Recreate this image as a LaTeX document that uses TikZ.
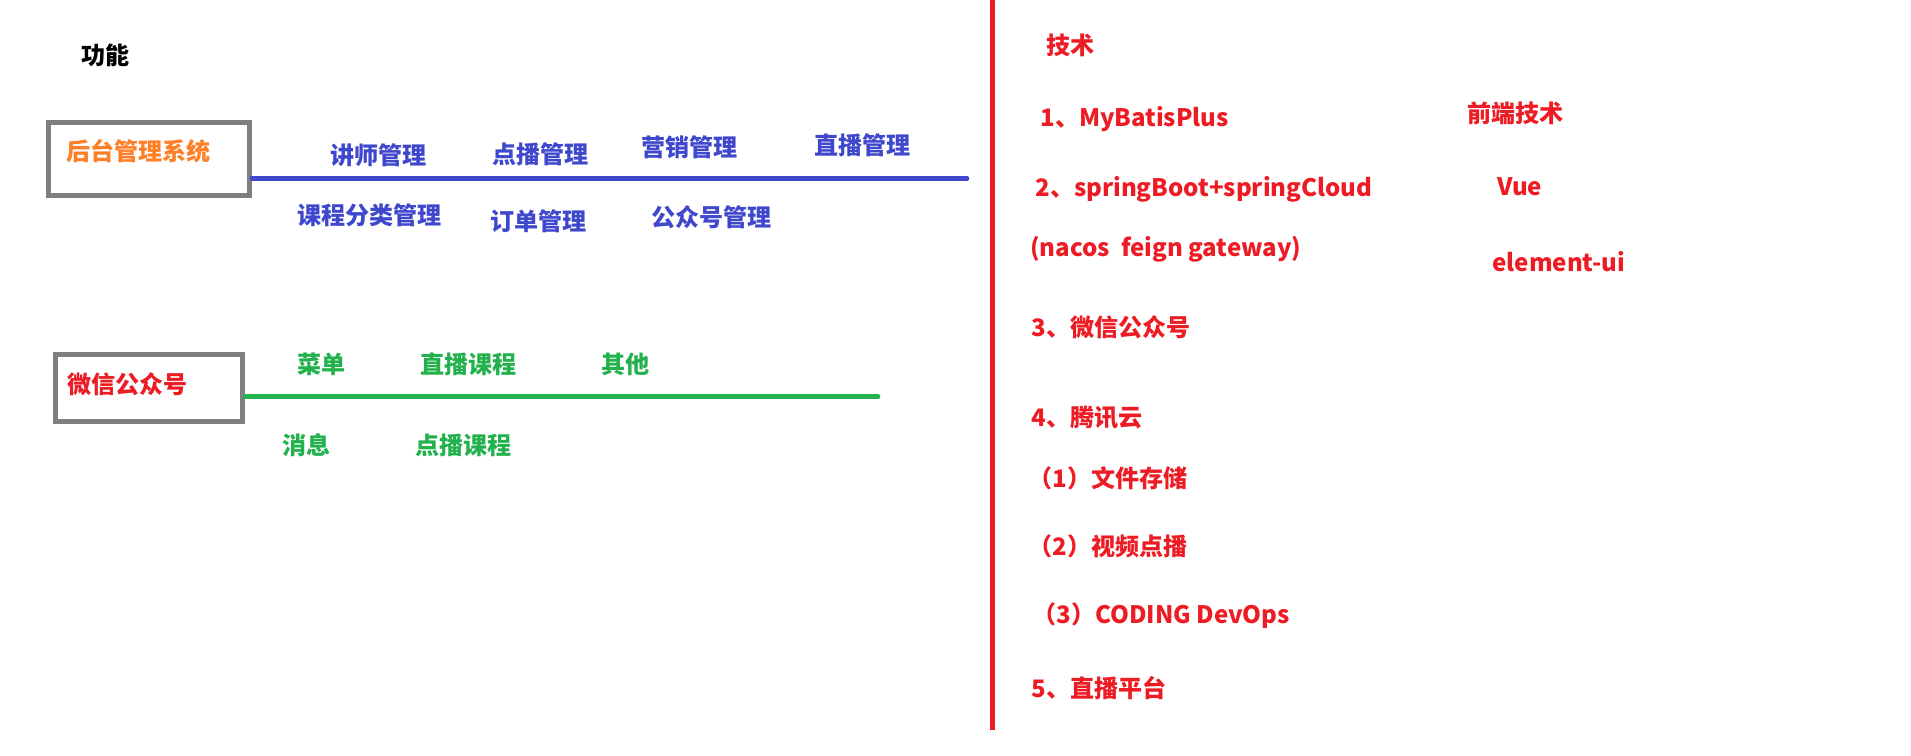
\documentclass[tikz,border=0pt]{standalone}
\usepackage{fontspec}
\setmainfont{Noto Sans CJK SC}
\definecolor{PtOrange}{HTML}{FF7F27}
\definecolor{PtBlue}{HTML}{3F48CC}
\definecolor{PtGreen}{HTML}{22B14C}
\definecolor{PtRed}{HTML}{ED1C24}
\definecolor{PtGray}{HTML}{7F7F7F}
\usepackage{tikz}

\begin{document}
\begin{tikzpicture}[x=0.02cm, y=-0.02cm,
      t/.style={font=\bfseries\fontsize{13.7}{16}\selectfont, inner sep=0pt, anchor=west,
        text height=1em, text depth=0em, xshift=-0.04cm},
      box/.style={rectangle, draw=PtGray, line width=2.8pt},
      bar/.style={line width=2.6pt, line cap=round}]
      \useasboundingbox (0,0) rectangle (1911,756);
      \node[t] (fn) at (83,56) {功能};
      % 后台
      \node[box, minimum width=4.02cm, minimum height=1.46cm] (sys) at (149,159) {};
      \node[t, PtOrange] (syst) at (68,152) {后台管理系统};
      \coordinate (bend) at (967,178.5);
      \draw[bar, PtBlue] (sys.east |- bend) -- (bend);
      \node[t, PtBlue] (m1) at (332,156) {讲师管理};
      \node[t, PtBlue] (m2) at (494,155) {点播管理};
      \node[t, PtBlue] (m3) at (643,148) {营销管理};
      \node[t, PtBlue] (m4) at (816,146) {直播管理};
      \node[t, PtBlue] (m5) at (299,216) {课程分类管理};
      \node[t, PtBlue] (m6) at (492,222) {订单管理};
      \node[t, PtBlue] (m7) at (653,218) {公众号管理};
      % 公众号
      \node[box, minimum width=3.74cm, minimum height=1.34cm] (wx) at (149,388) {};
      \node[t, PtRed] (wxt) at (69,385) {微信公众号};
      \coordinate (gend) at (878,396.5);
      \draw[bar, PtGreen] (wx.east |- gend) -- (gend);
      \node[t, PtGreen] (w1) at (299,365) {菜单};
      \node[t, PtGreen] (w2) at (422,365) {直播课程};
      \node[t, PtGreen] (w3) at (603,365) {其他};
      \node[t, PtGreen] (w4) at (284,446) {消息};
      \node[t, PtGreen] (w5) at (417,446) {点播课程};
      % divider
      \coordinate (vtop) at (992.5,0);
      \coordinate (vbot) at (992.5,730);
      \draw[PtRed, line width=2.6pt] (vtop) -- (vbot);
      % 技术
      \node[t, PtRed] (tc) at (1048,46) {技术};
      \node[t, PtRed] (k1) at (1042,118) {1、MyBatisPlus};
      \node[t, PtRed] (k2) at (1037,188) {2、springBoot+springCloud};
      \node[t, PtRed] (k2b) at (1032,248) {(nacos\ \ feign gateway)};
      \node[t, PtRed] (k3) at (1033,328) {3、微信公众号};
      \node[t, PtRed] (k4) at (1033,418) {4、腾讯云};
      \node[t, PtRed] (k41) at (1030,479) {（1）文件存储};
      \node[t, PtRed] (k42) at (1030,547) {（2）视频点播};
      \node[t, PtRed] (k43) at (1034,615) {（3）CODING DevOps};
      \node[t, PtRed] (k5) at (1033,689) {5、直播平台};
      \node[t, PtRed] (fe) at (1469,114) {前端技术};
      \node[t, PtRed] (f1) at (1499,187) {Vue};
      \node[t, PtRed] (f2) at (1494,263) {element-ui};
    \end{tikzpicture}
\end{document}
